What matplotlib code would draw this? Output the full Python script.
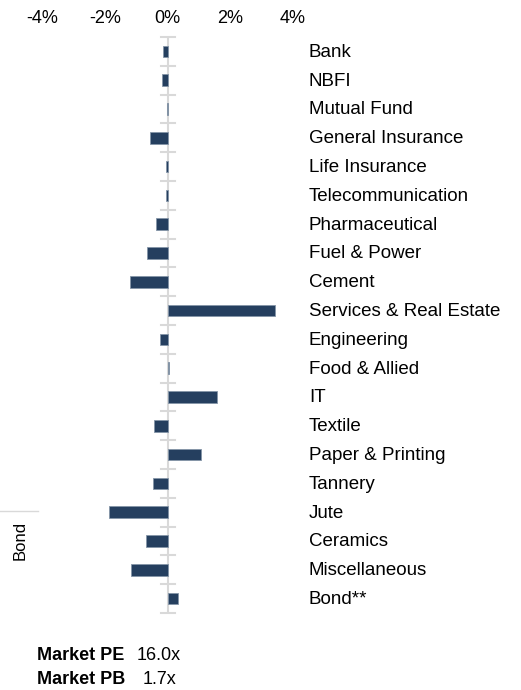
import numpy as np
import matplotlib.pyplot as plt
from matplotlib.transforms import blended_transform_factory

plt.rcParams['font.family'] = ['Liberation Sans', 'DejaVu Sans']

sectors = ['Bank', 'NBFI', 'Mutual Fund', 'General Insurance', 'Life Insurance',
           'Telecommunication', 'Pharmaceutical', 'Fuel & Power', 'Cement',
           'Services & Real Estate', 'Engineering', 'Food & Allied', 'IT',
           'Textile', 'Paper & Printing', 'Tannery', 'Jute', 'Ceramics',
           'Miscellaneous', 'Bond**']
change = [-0.14, -0.19, -0.01, -0.55, -0.05, -0.06, -0.37, -0.65, -1.22,
          3.42, -0.24, 0.03, 1.58, -0.45, 1.05, -0.48, -1.86, -0.70,
          -1.17, 0.33]
xticks = [-4, -2, 0, 2, 4]
market_pe = '16.0x'
market_pb = '1.7x'

W, H = 521, 690
fig = plt.figure(figsize=(W / 100, H / 100), dpi=100)

# axes from x pixel 30 to 300, y pixel 37 to 613
zero_px, px_per = 167.7, 31.3
left_px, right_px = 30, 300
ax = fig.add_axes([left_px / W, 1 - 613 / H, (right_px - left_px) / W, (613 - 37) / H])
ax.set_xlim((left_px - zero_px) / px_per, (right_px - zero_px) / px_per)

y = np.arange(len(sectors))
ax.barh(y, change, height=0.4, color='#253f5f', edgecolor='#8595a8', linewidth=0.6)
ax.set_ylim(len(sectors) - 0.5, -0.5)

for s in ax.spines.values():
    s.set_visible(False)
ax.axvline(0, color='#d9d9d9', lw=1.5, zorder=0)

ax.set_yticks([])
for b in np.arange(len(sectors) + 1) - 0.5:
    ax.plot([-0.22, 0.22], [b, b], color='#d9d9d9', lw=1.5, zorder=0, clip_on=False)

ax.xaxis.tick_top()
ax.set_xticks(xticks)
ax.set_xticklabels([f'{t}%' for t in xticks], fontsize=13)
ax.tick_params(axis='x', length=0, pad=7)

tr = blended_transform_factory(fig.transFigure, ax.transData)
for i, name in enumerate(sectors):
    ax.text(309 / W, i + 0.03, name, transform=tr, fontsize=13.5, va='center', ha='left')

# side label
fig.text(20 / W, 1 - 540 / H, 'Bond', rotation=90, fontsize=12, ha='center', va='center')
fig.add_artist(plt.Line2D([0, 38 / W], [1 - 511 / H, 1 - 511 / H], color='#d9d9d9', lw=1))

fig.text(37 / W, 1 - 655 / H, 'Market PE', fontsize=13, fontweight='bold', va='center')
fig.text(137 / W, 1 - 655 / H, market_pe, fontsize=13, va='center')
fig.text(37 / W, 1 - 679 / H, 'Market PB', fontsize=13, fontweight='bold', va='center')
fig.text(143 / W, 1 - 679 / H, market_pb, fontsize=13, va='center')

fig.savefig('out.png', dpi=100)
